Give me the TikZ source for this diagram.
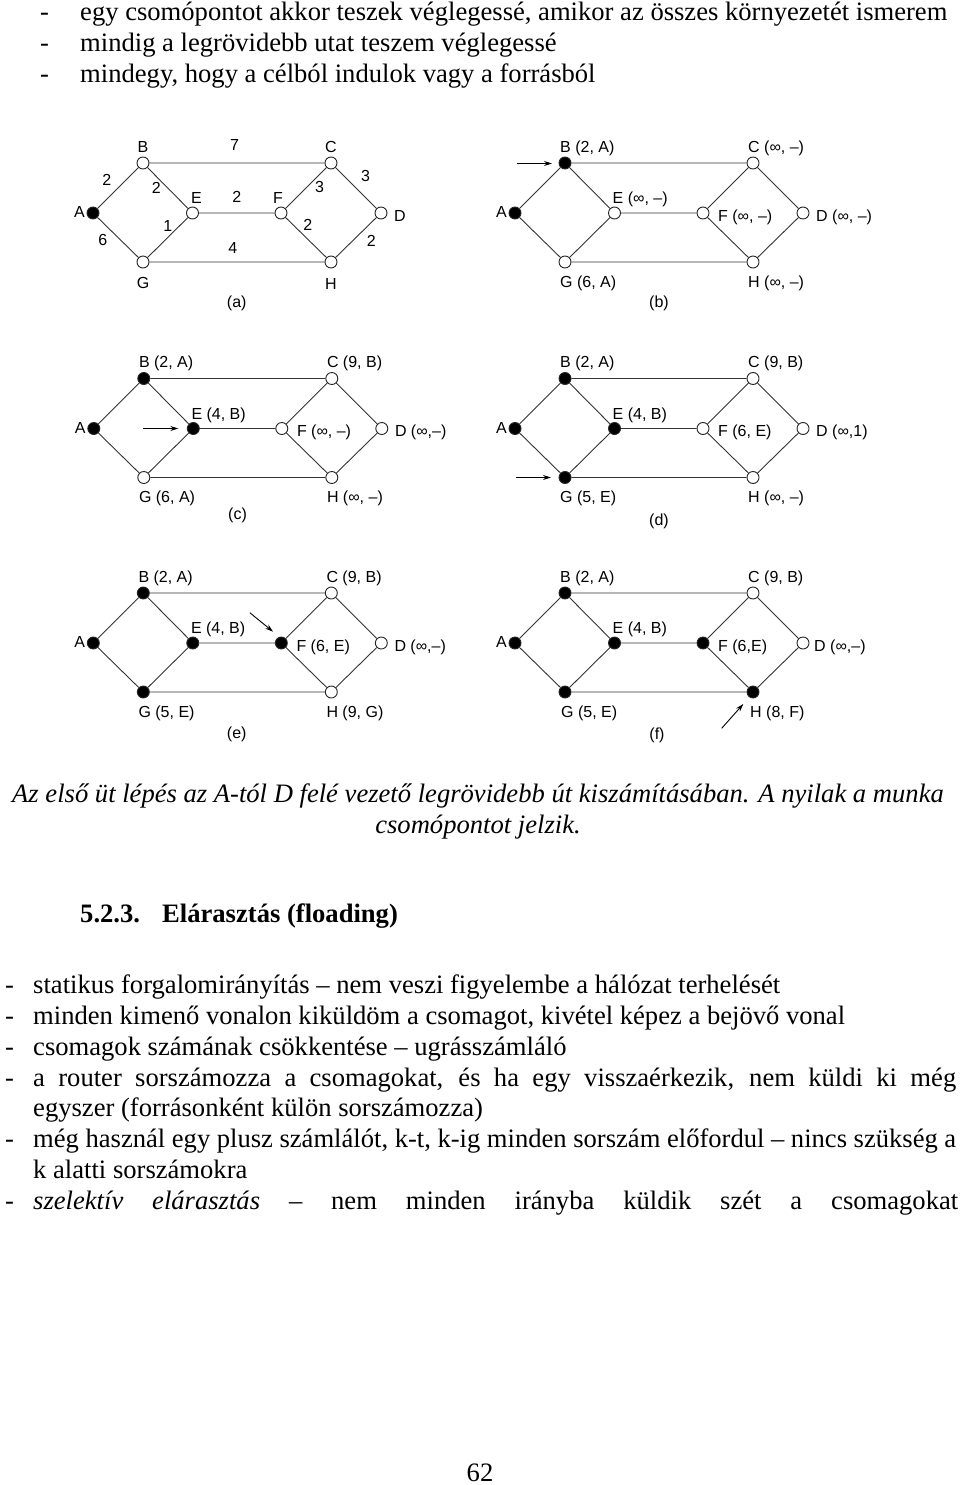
\documentclass[tikz,border=0pt]{standalone}
\usepackage{fontspec}
\setmainfont{Liberation Serif}
\newfontfamily\diafont{Liberation Sans}
\usetikzlibrary{arrows.meta}

\tikzset{
  vtx/.style={circle, draw=black!85, line width=0.9pt, minimum size=12pt, inner sep=0pt, fill=white},
  vtxf/.style={vtx, fill=black},
  edge/.style={draw=black!80, line width=0.9pt},
  lbl/.style={font=\diafont\fontsize{16}{18}\selectfont, inner sep=0pt, text=black},
  lblw/.style={lbl, anchor=base west},
  lble/.style={lbl, anchor=base east},
  lblc/.style={lbl, anchor=base},
  wt/.style={lbl, anchor=center},
  body/.style={font=\fontsize{26.6}{30}\selectfont, inner sep=0pt, anchor=base west},
  bodyc/.style={body, anchor=base},
  marker/.style={draw=black, line width=0.9pt, -{Stealth[length=8pt,width=5pt]}},
}

% #1 prefix, #2 origin (x,y of A), #3..#8 styles of A,B,E,F,G,H
\newcommand\mkgraph[8]{%
  \begin{scope}[shift={(#2)}]
    \node[#3] (#1A) at (0,0) {};
    \node[#4] (#1B) at (50,-50) {};
    \node[vtx] (#1C) at (238,-50) {};
    \node[#5] (#1E) at (99.5,0) {};
    \node[#6] (#1F) at (188,0) {};
    \node[vtx] (#1D) at (288,0) {};
    \node[#7] (#1G) at (50,49) {};
    \node[#8] (#1H) at (238,49) {};
  \end{scope}
  \draw[edge] (#1A)--(#1B) (#1A)--(#1G) (#1B)--(#1E) (#1E)--(#1G)
    (#1B)--(#1C) (#1E)--(#1F) (#1G)--(#1H) (#1C)--(#1F) (#1F)--(#1H)
    (#1C)--(#1D) (#1H)--(#1D);
}

\begin{document}
\begin{tikzpicture}[x=1pt,y=-1pt]
\fill[white] (0,0) rectangle (960,1485);
\useasboundingbox (0,0) rectangle (960,1485);

% ---------- top list ----------
\node[body] (t1d) at (40,21) {-};
\node[body] (t1) at (80,21) {egy csomópontot akkor teszek véglegessé, amikor az összes környezetét ismerem};
\node[body] (t2d) at (40,52) {-};
\node[body] (t2) at (80,52) {mindig a legrövidebb utat teszem véglegessé};
\node[body] (t3d) at (40,83) {-};
\node[body] (t3) at (80,83) {mindegy, hogy a célból indulok vagy a forrásból};

% ---------- panel (a) ----------
\mkgraph{a}{93,213}{vtxf}{vtx}{vtx}{vtx}{vtx}{vtx}
\node[lblc] (aBl) at ([shift={(0,-11)}]aB) {B};
\node[lblc] (aCl) at ([shift={(0,-11)}]aC) {C};
\node[lblc] (aEl) at ([shift={(4,-9.5)}]aE) {E};
\node[lblc] (aFl) at ([shift={(-3,-9.5)}]aF) {F};
\node[lblw] (aDl) at ([shift={(13,8)}]aD) {D};
\node[lble] (aAl) at ([shift={(-8,4.5)}]aA) {A};
\node[lblc] (aGl) at ([shift={(0,26)}]aG) {G};
\node[lblc] (aHl) at ([shift={(0,27)}]aH) {H};
\node[wt] (wAB) at ([shift={(13.8,-33)}]aA) {2};
\node[wt] (wBE) at ([shift={(63.2,-24.7)}]aA) {2};
\node[wt] (wBC) at ([shift={(141.5,-68)}]aA) {7};
\node[wt] (wCD) at ([shift={(272.5,-37)}]aA) {3};
\node[wt] (wCF) at ([shift={(226.5,-26.3)}]aA) {3};
\node[wt] (wEF) at ([shift={(143.8,-15.7)}]aA) {2};
\node[wt] (wEG) at ([shift={(74.8,13)}]aA) {1};
\node[wt] (wFH) at ([shift={(214.8,12)}]aA) {2};
\node[wt] (wHD) at ([shift={(278.2,27.7)}]aA) {2};
\node[wt] (wAG) at ([shift={(9.8,27)}]aA) {6};
\node[wt] (wGH) at ([shift={(139.8,35.3)}]aA) {4};
\node[lblc] (acap) at (236.7,307.4) {(a)};

% ---------- panel (b) ----------
\mkgraph{b}{515,213}{vtxf}{vtxf}{vtx}{vtx}{vtx}{vtx}
\node[lblw] (bBl) at ([shift={(-5,-11)}]bB) {B (2, A)};
\node[lblw] (bCl) at ([shift={(-5,-11)}]bC) {C (∞, –)};
\node[lblw] (bEl) at ([shift={(-2,-9.5)}]bE) {E (∞, –)};
\node[lblw] (bFl) at ([shift={(15,8)}]bF) {F (∞, –)};
\node[lblw] (bDl) at ([shift={(13,8)}]bD) {D (∞, –)};
\node[lble] (bAl) at ([shift={(-8,4.5)}]bA) {A};
\node[lblw] (bGl) at ([shift={(-5,25)}]bG) {G (6, A)};
\node[lblw] (bHl) at ([shift={(-5,25)}]bH) {H (∞, –)};
\node[lblc] (bcap) at (659,307.4) {(b)};
\coordinate (bS) at ([shift={(-48,0.5)}]bB);
\coordinate (bT) at ([shift={(-13,0.5)}]bB);
\draw[marker] (bS) -- (bT);

% ---------- panel (c) ----------
\mkgraph{c}{93.8,428.5}{vtxf}{vtxf}{vtxf}{vtx}{vtx}{vtx}
\node[lblw] (cBl) at ([shift={(-5,-11)}]cB) {B (2, A)};
\node[lblw] (cCl) at ([shift={(-5,-11)}]cC) {C (9, B)};
\node[lblw] (cEl) at ([shift={(-2,-9.5)}]cE) {E (4, B)};
\node[lblw] (cFl) at ([shift={(15,8)}]cF) {F (∞, –)};
\node[lblw] (cDl) at ([shift={(13,8)}]cD) {D (∞,–)};
\node[lble] (cAl) at ([shift={(-8,4.5)}]cA) {A};
\node[lblw] (cGl) at ([shift={(-5,25)}]cG) {G (6, A)};
\node[lblw] (cHl) at ([shift={(-5,25)}]cH) {H (∞, –)};
\node[lblc] (ccap) at (237.5,519.7) {(c)};
\coordinate (cS) at ([shift={(-50,0)}]cE);
\coordinate (cT) at ([shift={(-15,0)}]cE);
\draw[marker] (cS) -- (cT);

% ---------- panel (d) ----------
\mkgraph{d}{515,428.5}{vtxf}{vtxf}{vtxf}{vtx}{vtxf}{vtx}
\node[lblw] (dBl) at ([shift={(-5,-11)}]dB) {B (2, A)};
\node[lblw] (dCl) at ([shift={(-5,-11)}]dC) {C (9, B)};
\node[lblw] (dEl) at ([shift={(-2,-9.5)}]dE) {E (4, B)};
\node[lblw] (dFl) at ([shift={(15,8)}]dF) {F (6, E)};
\node[lblw] (dDl) at ([shift={(13,8)}]dD) {D (∞,1)};
\node[lble] (dAl) at ([shift={(-8,4.5)}]dA) {A};
\node[lblw] (dGl) at ([shift={(-5,25)}]dG) {G (5, E)};
\node[lblw] (dHl) at ([shift={(-5,25)}]dH) {H (∞, –)};
\node[lblc] (dcap) at (659,525.7) {(d)};
\coordinate (dS) at ([shift={(-49,0)}]dG);
\coordinate (dT) at ([shift={(-14,0)}]dG);
\draw[marker] (dS) -- (dT);

% ---------- panel (e) ----------
\mkgraph{e}{93.3,643}{vtxf}{vtxf}{vtxf}{vtxf}{vtxf}{vtx}
\node[lblw] (eBl) at ([shift={(-5,-11)}]eB) {B (2, A)};
\node[lblw] (eCl) at ([shift={(-5,-11)}]eC) {C (9, B)};
\node[lblw] (eEl) at ([shift={(-2,-9.5)}]eE) {E (4, B)};
\node[lblw] (eFl) at ([shift={(15,8)}]eF) {F (6, E)};
\node[lblw] (eDl) at ([shift={(13,8)}]eD) {D (∞,–)};
\node[lble] (eAl) at ([shift={(-8,4.5)}]eA) {A};
\node[lblw] (eGl) at ([shift={(-5,25)}]eG) {G (5, E)};
\node[lblw] (eHl) at ([shift={(-5,25)}]eH) {H (9, G)};
\node[lblc] (ecap) at (236.7,738.4) {(e)};
\coordinate (eS) at ([shift={(-31.5,-30.3)}]eF);
\coordinate (eT) at ([shift={(-8.2,-11.3)}]eF);
\draw[marker] (eS) -- (eT);

% ---------- panel (f) ----------
\mkgraph{f}{515,643}{vtxf}{vtxf}{vtxf}{vtxf}{vtxf}{vtxf}
\node[lblw] (fBl) at ([shift={(-5,-11)}]fB) {B (2, A)};
\node[lblw] (fCl) at ([shift={(-5,-11)}]fC) {C (9, B)};
\node[lblw] (fEl) at ([shift={(-2,-9.5)}]fE) {E (4, B)};
\node[lblw] (fFl) at ([shift={(15,8)}]fF) {F (6,E)};
\node[lblw] (fDl) at ([shift={(11,8)}]fD) {D (∞,–)};
\node[lble] (fAl) at ([shift={(-8,4.5)}]fA) {A};
\node[lblw] (fGl) at ([shift={(-4,25)}]fG) {G (5, E)};
\node[lblw] (fHl) at ([shift={(-3,25)}]fH) {H (8, F)};
\node[lblc] (fcap) at (657,739) {(f)};
\coordinate (fS) at ([shift={(-31.3,36.3)}]fH);
\coordinate (fT) at ([shift={(-9.7,12)}]fH);
\draw[marker] (fS) -- (fT);

% ---------- caption ----------
\node[bodyc] (cap1) at (478,802) {\itshape Az első üt lépés az A-tól D felé vezető legrövidebb út kiszámításában. A nyilak a munka};
\node[bodyc] (cap2) at (478,833) {\itshape csomópontot jelzik.};

% ---------- heading ----------
\node[body] (h1) at (80,922) {\bfseries 5.2.3.};
\node[body] (h2) at (162,922) {\bfseries Elárasztás (floading)};

% ---------- bottom list ----------
\node[body] (l1d) at (5,993) {-};
\node[body] (l1) at (33,993) {statikus forgalomirányítás – nem veszi figyelembe a hálózat terhelését};
\node[body] (l2d) at (5,1024) {-};
\node[body] (l2) at (33,1024) {minden kimenő vonalon kiküldöm a csomagot, kivétel képez a bejövő vonal};
\node[body] (l3d) at (5,1055) {-};
\node[body] (l3) at (33,1055) {csomagok számának csökkentése – ugrásszámláló};
\node[body] (l4d) at (5,1086) {-};
\node[body] (l4) at (33,1086) {\makebox[923pt][s]{a router sorszámozza a csomagokat, és ha egy visszaérkezik, nem küldi ki még}};
\node[body] (l5) at (33,1116) {egyszer (forrásonként külön sorszámozza)};
\node[body] (l6d) at (5,1147) {-};
\node[body] (l6) at (33,1147) {\makebox[923pt][s]{még használ egy plusz számlálót, k-t, k-ig minden sorszám előfordul – nincs szükség a}};
\node[body] (l7) at (33,1178) {k alatti sorszámokra};
\node[body] (l8d) at (5,1209) {-};
\node[body] (l8) at (33,1209) {\makebox[925pt][s]{\textit{szelektív} \textit{elárasztás} – nem minden irányba küldik szét a csomagokat}};

% ---------- page number ----------
\node[bodyc] (pg) at (480,1481) {62};
\end{tikzpicture}
\end{document}
